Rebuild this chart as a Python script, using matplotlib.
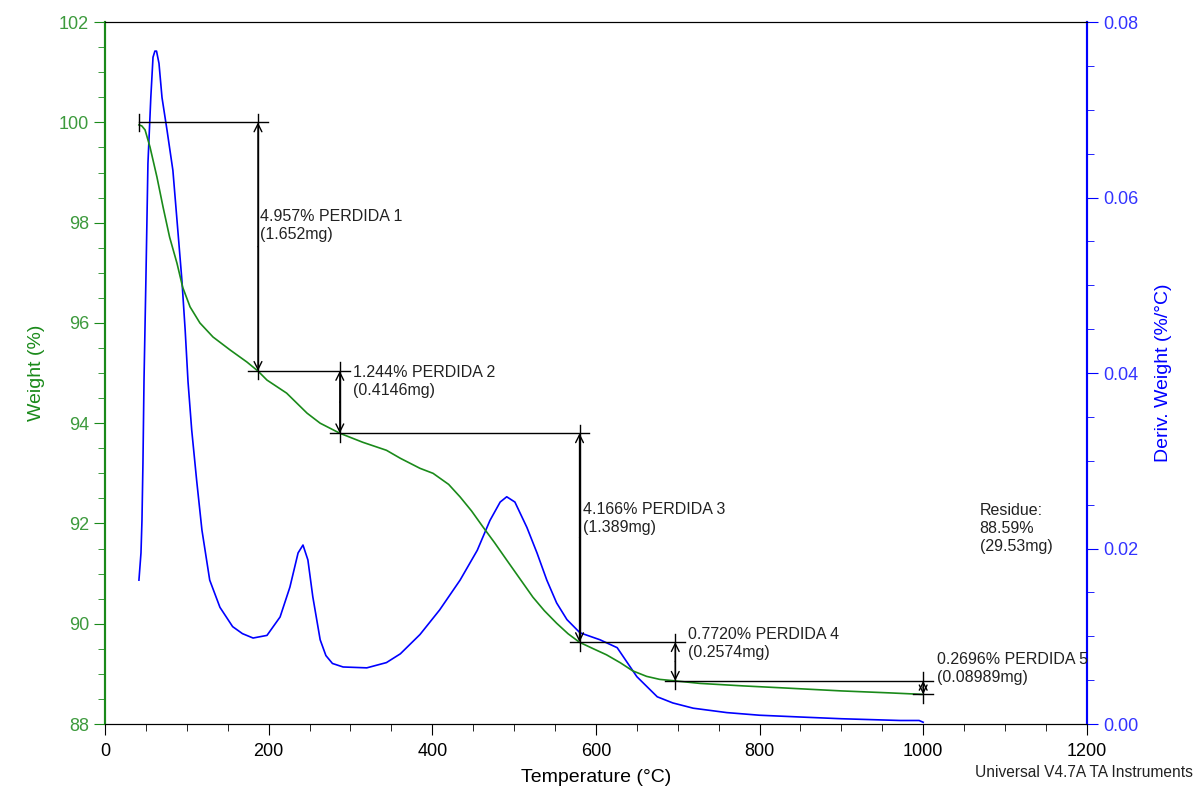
import matplotlib
matplotlib.use("Agg")
import matplotlib.pyplot as plt
from matplotlib.ticker import MultipleLocator, FormatStrFormatter

plt.rcParams['font.family'] = ['Liberation Sans', 'DejaVu Sans']

# ---- data ----
temp_w = [41.5, 45, 49, 55, 63.5, 71, 79, 88, 95, 104, 116, 132, 153, 173.5, 187, 198, 222,
          247, 263, 287, 315, 344, 361, 385, 401, 420, 434, 448, 462, 476, 491, 507, 523,
          537, 552, 566, 580, 597, 613, 630, 645, 662, 678, 697, 727, 780, 829, 900, 960,
          1000]
weight = [99.95, 99.93, 99.85, 99.51, 98.91, 98.31, 97.71, 97.19, 96.71, 96.32, 96.0,
          95.72, 95.46, 95.22, 95.04, 94.86, 94.6, 94.2, 94.0, 93.8, 93.62, 93.46, 93.3,
          93.1, 93.0, 92.78, 92.53, 92.25, 91.93, 91.62, 91.27, 90.9, 90.53, 90.26, 90.01,
          89.8, 89.63, 89.5, 89.38, 89.22, 89.06, 88.95, 88.89, 88.86, 88.81, 88.76, 88.72,
          88.66, 88.62, 88.59]

temp_d = [41.5, 44, 45.2, 46.4, 47.7, 50, 52.5, 56, 58.7, 61, 63, 66, 69.7, 75.8, 83, 89,
          94, 98, 101.5, 106, 112, 118.5, 128, 140.5, 156, 168, 181, 198, 214, 226, 236,
          242, 248, 254, 263, 270, 278, 291, 320, 344, 361, 385, 409, 434, 455, 470.5, 483,
          491, 501, 515.7, 528, 540, 552, 564.6, 580.5, 605, 626, 650, 675, 694, 719, 760,
          800, 849, 900, 972, 995, 1000]
deriv = [0.0164, 0.0195, 0.0232, 0.0297, 0.0392, 0.0506, 0.0639, 0.0714, 0.0760, 0.0767,
         0.0767, 0.0753, 0.0714, 0.0677, 0.0631, 0.0563, 0.0506, 0.0449, 0.0390, 0.0335,
         0.0278, 0.0221, 0.0164, 0.0133, 0.0111, 0.0103, 0.0098, 0.0101, 0.0122, 0.0156,
         0.0195, 0.0204, 0.0187, 0.0145, 0.0096, 0.0078, 0.0069, 0.0065, 0.0064, 0.0070,
         0.0080, 0.0102, 0.0130, 0.0164, 0.0198, 0.0232, 0.0253, 0.0259, 0.0253, 0.0224,
         0.0195, 0.0164, 0.0138, 0.0119, 0.0104, 0.0096, 0.0087, 0.0054, 0.0031, 0.0024,
         0.0018, 0.0013, 0.0010, 0.0008, 0.0006, 0.0004, 0.0004, 0.0002]

start_level = 100.0
loss_pct = ["4.957", "1.244", "4.166", "0.7720", "0.2696"]
loss_mg = ["1.652", "0.4146", "1.389", "0.2574", "0.08989"]
loss_T = [187, 287, 580, 697, 1000]          # x of vertical measurement lines
label_pos = [(190, 98.27), (303, 95.16), (584, 92.43), (712, 89.93), (1017, 89.44)]
residue_text = "Residue:\n88.59%\n(29.53mg)"

GREEN = '#1a8a1a'
GREEN_T = '#3d9a3d'
BLUE = '#0000ff'
BLUE_T = '#3333ff'

fig = plt.figure(figsize=(11.93, 7.91), dpi=100)
ax = fig.add_axes([0.088, 0.0847, 0.823, 0.8873])
ax2 = ax.twinx()

ax.plot(temp_w, weight, color=GREEN, lw=1.2, zorder=3)
ax2.plot(temp_d, deriv, color=BLUE, lw=1.2)

ax.set_xlim(0, 1200)
ax.set_ylim(88, 102)
ax2.set_ylim(0, 0.08)

ax.xaxis.set_major_locator(MultipleLocator(200))
ax.xaxis.set_minor_locator(MultipleLocator(50))
ax.yaxis.set_major_locator(MultipleLocator(2))
ax.yaxis.set_minor_locator(MultipleLocator(0.5))
ax2.yaxis.set_major_locator(MultipleLocator(0.02))
ax2.yaxis.set_minor_locator(MultipleLocator(0.005))
ax2.yaxis.set_major_formatter(FormatStrFormatter('%.2f'))

ax.tick_params(axis='x', which='major', length=8, labelsize=13, color='black', pad=6)
ax.tick_params(axis='x', which='minor', length=5)
ax.tick_params(axis='y', which='major', length=8, labelsize=13, color=GREEN, labelcolor=GREEN_T)
ax.tick_params(axis='y', which='minor', length=5, color=GREEN)
ax2.tick_params(axis='y', which='major', length=8, labelsize=13, color=BLUE, labelcolor=BLUE_T)
ax2.tick_params(axis='y', which='minor', length=5, color=BLUE)

for a in (ax, ax2):
    a.spines['left'].set_color(GREEN)
    a.spines['right'].set_color(BLUE)
    a.spines['left'].set_linewidth(1.5)
    a.spines['right'].set_linewidth(1.5)

ax.set_xlabel('Temperature (°C)', fontsize=14, labelpad=6)
ax.set_ylabel('Weight (%)', fontsize=14, color=GREEN, labelpad=10)
ax2.set_ylabel('Deriv. Weight (%/°C)', fontsize=14, color=BLUE, labelpad=12)

# ---- step annotations ----
levels = [start_level]
for p in loss_pct:
    levels.append(levels[-1] - float(p))

ext = 0.17  # vertical overshoot in weight units
tx = 12     # horizontal overshoot in °C
h_starts = [42] + [t - tx for t in loss_T]
h_ends = [t + tx for t in loss_T] + [loss_T[-1] + tx]
for i, lev in enumerate(levels):
    ax.plot([h_starts[i], h_ends[i]], [lev, lev], color='black', lw=1, zorder=4)
ax.plot([42, 42], [levels[0] - ext, levels[0] + ext], color='black', lw=1, zorder=4)

for i, t in enumerate(loss_T):
    top, bot = levels[i], levels[i + 1]
    ax.plot([t, t], [bot - ext, top + ext], color='black', lw=1, zorder=4)
    for end in (top, bot):
        ax.annotate('', xy=(t, end), xytext=(t, (top + bot) / 2),
                    arrowprops=dict(arrowstyle='->', lw=1, color='black', shrinkA=0,
                                    shrinkB=0, mutation_scale=14), zorder=5)
    lx, ly = label_pos[i]
    ax.text(lx, ly, f"{loss_pct[i]}% PERDIDA {i + 1}\n({loss_mg[i]}mg)", fontsize=11.5,
            va='top', ha='left', color='#222222', linespacing=1.25, zorder=6)

ax.text(1069, 92.41, residue_text, fontsize=11.5, va='top', ha='left',
        color='#222222', linespacing=1.25)

fig.text(0.817, 0.023, 'Universal V4.7A TA Instruments', fontsize=11.2, ha='left',
         va='center', color='#222222')

ax.set_zorder(ax2.get_zorder() + 1)
ax.patch.set_visible(False)

fig.savefig('out.png', dpi=100)
